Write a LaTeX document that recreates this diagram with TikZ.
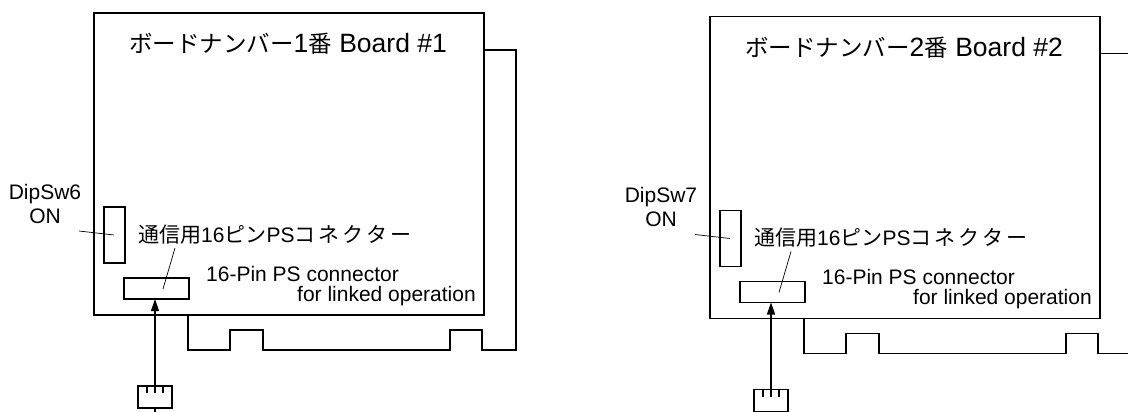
\documentclass[tikz,border=0pt]{standalone}
\usepackage{fontspec}
\setmainfont{Liberation Sans}
\newfontfamily\jpfamily{Noto Sans CJK JP}
\usetikzlibrary{arrows.meta}
\newcommand\jptitle{\jpfamily\fontsize{23.5}{28}\selectfont}
\newcommand\jplabel{\jpfamily\fontsize{21}{26}\selectfont}
\newcommand\myboard[5]{%
\begin{scope}[shift={(#2,#3)}]
\node[boardbox, minimum width=390pt, minimum height=302pt] (board#1) at (289,164) {};
\draw[thickline] (484,50) -| (516,350) -| (482,330) -| (450,350) -| (263,330) -| (230,350) -| (188,315);
\node[title, anchor=base west] (title#1) at (129,53) {{\jptitle ボードナンバー}#4{\jptitle 番} Board \##4};
\node[boardbox, minimum width=21pt, minimum height=56pt] (dip#1) at (114.5,235) {};
\node[boardbox, minimum width=65pt, minimum height=21pt] (conn#1) at (156.5,288.5) {};
\node[boardbox, minimum width=34pt, minimum height=22pt] (plug#1) at (155,397) {};
\foreach \tx in {147,155,163} \draw[thickline] (\tx,386) -- (\tx,393);
\coordinate (cable#1) at (155,414);
\draw[thickline, -{Triangle[length=12pt,width=8pt]}] (plug#1.north) -- (plug#1.north |- conn#1.south);
\draw[thickline] (plug#1.south) -- (cable#1);
\node[label, align=center, anchor=base] (diplab#1) at (45,223) {DipSw#5\\ON};
\coordinate (dipleadA#1) at (79,231);
\coordinate (dipleadB#1) at (114,235);
\draw[thinline] (dipleadA#1) -- (dipleadB#1);
\node[label, anchor=base west] (jplab#1) at (138,242) {{\jplabel 通信用}16{\jplabel ピン}PS{\jplabel コ\kern3ptネ\kern3ptク\kern3ptタ\kern3ptー}};
\node[label, anchor=base west] (enlabA#1) at (206,281) {16-Pin PS connector};
\node[label, anchor=base east] (enlabB#1) at (476,301) {for linked operation};
\coordinate (connleadA#1) at (175,248);
\coordinate (connleadB#1) at (163,289);
\draw[thinline] (connleadA#1) -- (connleadB#1);
\end{scope}}
\begin{document}
\begin{tikzpicture}[x=1pt,y=-1pt,
  boardbox/.style={draw, line width=1.1pt, inner sep=0pt, outer sep=0pt},
  thickline/.style={line width=1.1pt},
  thinline/.style={line width=0.7pt},
  title/.style={inner sep=0pt, font=\fontsize{26.5}{30}\selectfont},
  label/.style={inner sep=0pt, font=\fontsize{21}{24}\selectfont}]
\useasboundingbox (0,0) rectangle (1128,412);
\fill[white] (0,0) rectangle (1128,412);
\myboard{1}{0}{0}{1}{6}
\myboard{2}{616}{3.5}{2}{7}
\end{tikzpicture}
\end{document}
